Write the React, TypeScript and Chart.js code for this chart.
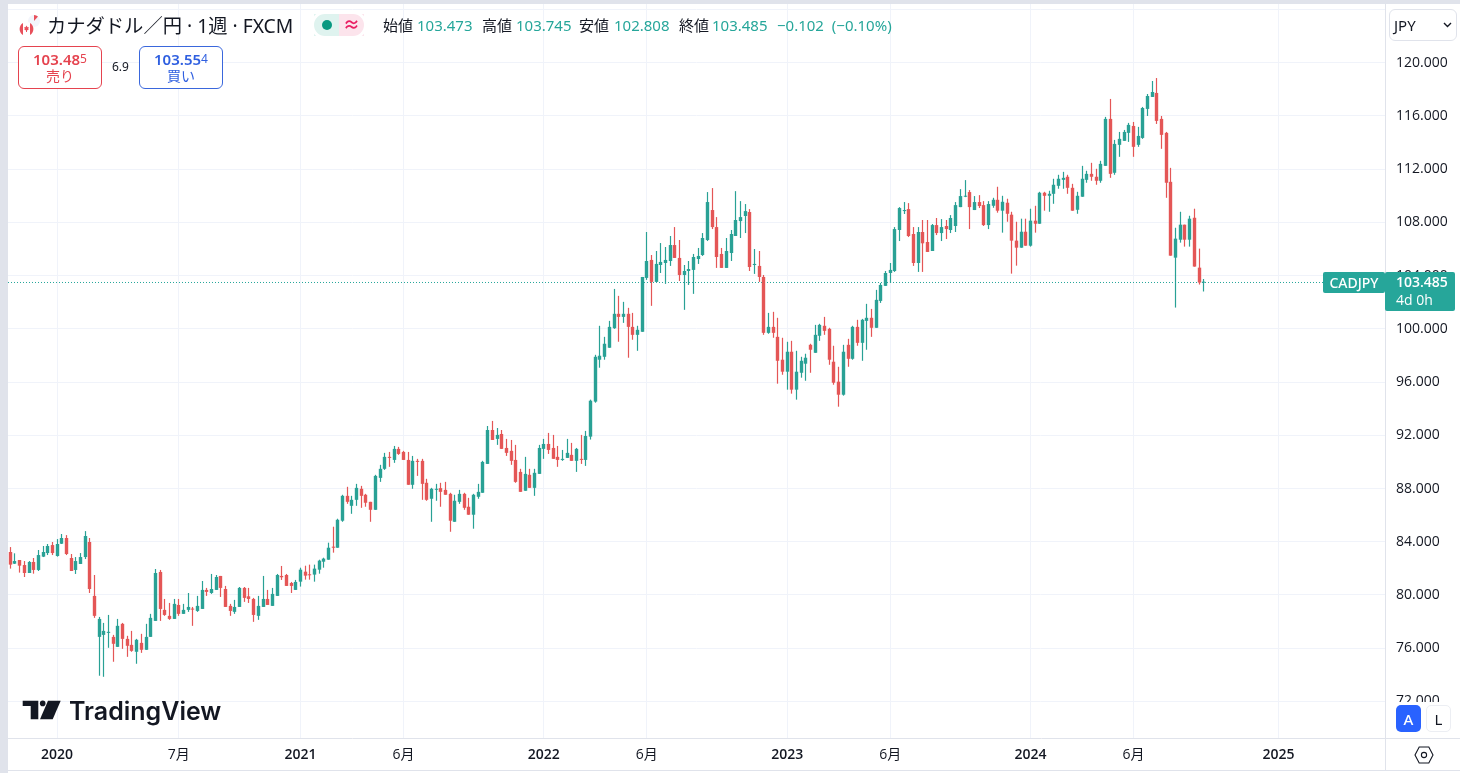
import React, { useEffect, useRef } from "react";
import { Chart, registerables } from "chart.js";

Chart.register(...registerables);

const opens = [
  83.23,82.35,82.63,82.25,81.65,82.48,81.88,82.88,83.15,83.75,
  82.93,83.85,84.28,82.78,81.88,82.33,82.85,83.98,79.93,76.85,
  77.0,77.15,76.85,76.1,77.83,76.7,76.25,75.73,76.4,75.88,
  76.85,78.05,81.73,78.88,78.43,78.2,79.25,78.58,78.88,78.95,
  78.8,78.95,80.38,80.15,80.38,81.43,80.45,79.18,78.73,79.1,
  80.53,79.9,79.7,78.43,79.1,79.7,79.18,79.93,81.43,81.5,
  80.9,80.38,81.0,81.75,81.53,81.53,81.9,82.5,82.65,83.63,
  83.55,85.58,87.45,86.7,87.15,87.98,87.53,87.0,86.4,88.8,
  89.48,90.38,90.15,90.98,90.75,90.15,88.28,90.08,90.08,88.43,
  87.23,87.9,88.03,87.9,87.6,85.5,87.0,87.6,86.63,86.03,
  87.38,87.68,89.85,92.4,91.73,92.1,91.05,90.83,90.15,89.25,
  87.83,89.03,88.05,89.1,90.98,91.35,91.05,90.38,90.15,90.3,
  90.53,90.08,90.23,90.15,91.9,94.53,97.68,97.9,98.58,100.05,
  101.13,100.9,101.13,100.15,99.55,99.78,103.83,105.18,103.53,104.8,
  104.95,105.1,106.3,105.33,104.05,104.35,104.43,105.25,105.55,106.68,
  108.93,107.65,105.63,104.58,105.7,106.98,108.1,108.48,108.78,104.8,
  104.73,103.9,99.7,100.15,99.4,97.68,96.78,98.28,95.43,96.7,
  97.38,98.8,98.2,99.48,100.23,100.0,97.53,96.03,95.05,98.8,
  97.75,100.15,98.95,100.6,100.83,100.08,102.1,103.23,104.2,104.35,
  107.43,108.85,109.0,107.13,104.95,107.28,106.53,105.85,107.8,107.2,
  107.73,107.43,107.73,109.15,109.93,110.28,108.93,109.53,109.3,107.8,
  109.25,109.7,108.88,109.48,108.58,106.63,106.1,107.3,106.25,108.13,
  107.9,110.23,110.0,110.15,110.75,111.2,111.43,110.6,108.95,109.93,
  111.2,111.65,111.43,111.13,112.25,115.78,111.73,113.83,114.13,114.73,
  115.25,113.83,114.35,116.53,117.43,117.73,115.78,114.73,111.05,105.35,
  106.7,107.83,106.7,108.35,104.6,103.473,
];

const highs = [
  83.6,83.13,82.63,82.55,82.55,82.78,83.38,83.68,83.83,83.98,
  84.2,84.58,84.5,83.08,82.85,83.15,84.8,84.28,81.5,78.35,
  77.9,78.5,77.0,78.2,77.9,76.93,77.3,76.7,77.08,77.83,
  78.58,81.95,81.88,79.7,79.4,79.7,79.7,79.33,80.15,79.1,
  79.93,81.05,80.53,81.58,81.5,81.43,80.68,79.33,79.63,80.6,
  80.6,80.53,79.78,79.93,81.43,80.38,80.53,81.58,82.18,81.58,
  80.98,81.13,82.05,82.2,82.28,82.28,82.65,82.8,83.93,85.13,
  85.73,87.53,88.13,87.45,88.35,88.2,87.6,87.0,89.03,89.78,
  90.68,90.75,91.2,91.13,90.83,90.75,90.45,90.23,90.23,88.73,
  88.05,88.35,88.43,88.5,87.68,87.53,87.9,87.68,87.3,87.6,
  88.35,90.08,92.7,93.08,92.55,92.4,91.73,91.65,91.28,89.48,
  90.38,89.48,89.48,91.28,91.73,92.18,92.03,91.2,90.9,91.73,
  91.43,91.05,92.03,92.33,94.68,98.05,100.23,99.4,100.6,103.0,
  102.48,102.03,101.58,101.2,100.23,103.9,107.28,105.55,105.85,106.45,
  106.15,106.98,107.65,106.68,104.8,105.1,105.63,106.08,107.2,110.28,
  110.58,108.4,106.08,106.83,107.43,110.35,109.6,109.38,109.0,106.0,
  105.85,104.05,101.2,101.28,100.83,99.33,99.03,99.1,98.35,97.9,
  98.13,98.88,100.3,100.38,100.9,100.08,98.73,97.15,98.8,99.25,
  100.23,100.68,100.75,101.88,101.5,102.93,103.45,104.35,104.95,107.65,
  109.15,109.53,109.45,107.65,107.65,108.18,108.18,107.88,108.33,108.25,
  108.18,108.55,109.53,110.5,111.18,110.43,109.98,110.05,109.6,109.6,
  109.85,110.68,110.0,109.78,108.8,108.05,108.28,108.28,109.03,109.25,
  110.3,110.3,110.38,111.28,111.58,111.8,111.58,110.9,110.3,112.25,
  111.88,112.48,112.03,112.63,115.93,117.28,114.2,114.8,114.95,115.48,
  115.55,115.18,116.68,117.65,118.63,118.85,116.0,114.8,112.1,107.6,
  108.8,107.83,108.5,109.03,106.03,103.745,
];

const lows = [
  81.98,82.33,81.68,81.35,81.65,81.6,81.8,82.85,83.0,83.0,
  82.88,83.83,83.0,81.8,81.58,82.33,82.7,80.15,78.28,73.93,
  73.85,76.03,74.98,76.1,75.95,75.35,75.73,74.83,75.65,75.88,
  76.85,78.05,78.05,78.43,78.13,78.2,78.43,78.58,78.73,77.68,
  78.73,78.95,79.93,80.08,80.38,79.85,79.1,78.43,78.58,79.1,
  79.48,79.4,77.98,78.13,79.1,79.25,79.18,79.93,81.13,80.68,
  80.15,80.38,80.63,81.15,81.15,81.0,81.6,82.05,82.65,83.18,
  83.55,85.5,86.85,86.1,86.7,86.55,86.63,85.5,86.4,88.5,
  89.4,89.63,89.93,90.53,90.15,88.28,87.98,88.95,87.15,87.08,
  85.5,87.08,86.63,87.53,84.75,85.5,86.85,86.4,86.03,84.98,
  87.23,87.68,89.85,91.65,91.28,90.98,90.45,89.78,88.43,87.75,
  87.83,88.05,87.45,89.1,90.23,90.6,90.23,89.63,90.08,90.3,
  90.08,89.25,89.85,89.7,91.68,94.45,97.08,97.68,98.58,100.0,
  99.03,100.45,97.83,99.18,98.35,99.78,103.68,101.73,103.53,104.2,
  103.38,104.73,105.33,103.6,101.43,103.3,102.63,104.88,105.48,106.6,
  107.5,104.58,104.58,104.58,105.1,106.98,106.83,107.2,104.35,104.13,
  103.53,99.55,99.63,99.33,95.88,96.55,95.43,95.13,94.68,96.33,
  96.1,96.7,98.2,99.1,99.55,97.3,95.8,94.15,94.98,97.15,
  97.68,98.73,97.6,98.43,99.4,100.08,101.95,103.23,103.45,104.28,
  106.6,108.63,106.9,104.73,104.28,104.28,105.78,105.85,107.05,106.6,
  106.75,107.2,107.28,109.15,109.9,107.5,108.93,109.08,107.73,107.5,
  109.1,108.73,107.23,108.05,104.15,104.75,106.1,106.25,106.18,107.23,
  107.9,108.88,108.8,109.4,110.53,110.53,110.15,108.88,108.65,109.93,
  110.98,111.13,110.83,110.98,112.25,111.35,111.58,112.93,114.13,114.05,
  112.93,113.68,114.28,116.0,117.43,115.4,113.53,109.85,105.5,101.6,
  106.48,106.18,106.18,104.68,103.33,102.808,
];

const closes = [
  82.28,82.55,82.2,81.65,82.48,81.88,83.0,83.23,83.68,83.15,
  83.83,84.28,83.08,81.8,82.55,82.85,84.43,80.45,78.43,78.2,
  77.3,77.23,76.33,77.68,76.7,76.18,75.8,76.63,75.88,76.85,
  78.28,81.65,78.95,78.5,78.2,79.33,78.58,78.88,79.1,78.9,
  79.18,80.38,80.23,80.45,81.35,80.53,79.1,78.8,79.1,80.53,
  79.78,79.7,78.5,79.18,79.7,79.25,80.08,81.5,81.33,80.68,
  80.68,80.98,81.9,81.45,81.48,81.98,82.58,82.73,83.55,83.55,
  85.65,87.45,87.0,87.15,88.05,87.45,86.93,86.4,88.95,89.48,
  90.38,90.3,90.98,90.6,90.15,88.28,90.08,90.0,88.35,87.15,
  87.98,87.98,87.75,87.53,85.58,87.08,87.6,86.55,86.03,87.53,
  87.75,90.0,92.4,91.65,92.03,90.98,90.68,90.08,88.5,87.75,
  89.1,88.05,89.18,91.05,91.35,90.9,90.23,90.15,90.23,90.68,
  90.08,90.98,90.15,91.95,94.6,97.9,97.98,98.88,100.15,101.13,
  100.9,101.13,100.15,99.55,99.93,103.9,105.1,103.53,104.88,105.03,
  105.18,106.3,105.33,104.05,104.35,104.5,105.4,105.48,106.83,109.53,
  107.65,105.4,104.58,105.85,107.13,108.18,108.4,108.85,104.65,104.88,
  103.9,99.7,100.15,99.7,97.6,96.78,98.28,95.43,96.78,97.6,
  97.83,98.43,99.55,100.3,99.85,97.68,95.95,95.05,98.28,97.75,
  100.15,98.95,100.68,100.83,100.08,102.18,103.3,104.2,104.43,107.5,
  109.08,108.93,106.98,104.95,107.28,106.43,105.78,107.8,107.2,107.65,
  107.5,108.33,109.3,109.98,109.98,109.15,109.53,109.23,107.8,109.38,
  109.7,108.88,109.55,108.65,106.63,106.1,107.3,106.25,108.13,107.9,
  110.23,110.0,110.15,110.83,111.28,111.35,110.6,108.88,110.0,111.28,
  111.65,111.43,111.13,112.4,115.78,111.65,113.9,114.28,114.8,115.33,
  113.68,114.5,116.6,117.5,117.8,115.63,114.58,110.98,105.5,106.78,
  107.83,106.7,108.28,104.68,103.48,103.485,
];

const timeTickIndex = [10, 36, 62, 84, 114, 136, 166, 188, 218, 240, 271];
const timeTickLabels = ["2020", "7月", "2021", "6月", "2022", "6月", "2023", "6月", "2024", "6月", "2025"];
const priceTicks = [72, 76, 80, 84, 88, 92, 96, 100, 104, 108, 112, 116, 120, 124];
const lastPrice = 103.485;

const UP = "#26a69a";
const CANDLE_UP = "#29a195";
const CANDLE_DOWN = "#e45656";
const GRID = "#f0f3fa";
const AXIS = "#e0e3eb";
const INK = "#131722";
const FONT = '"Open Sans", "Noto Sans CJK JP", sans-serif';
const JP = '"Noto Sans", "Noto Sans CJK JP", sans-serif';

const snapPlugin = {
  id: "snapCandles",
  beforeDatasetsDraw(chart: any) {
    chart.data.datasets.forEach((d: any, i: number) => {
      if (d.type === "line") return;
      chart.getDatasetMeta(i).data.forEach((el: any) => {
        el.x = Math.floor(el.x) + 0.5;
      });
    });
  },
};

function T(p: { x: number; y: number; size?: number; color?: string; weight?: number; children: React.ReactNode; font?: string; w?: number; center?: boolean; ws?: number }) {
  const h = 24;
  return (
    <div
      style={{
        position: "absolute",
        left: p.x,
        top: p.y - h / 2,
        height: h,
        lineHeight: h + "px",
        fontSize: p.size ?? 15,
        color: p.color ?? INK,
        fontWeight: p.weight ?? 400,
        fontFamily: p.font ?? JP,
        whiteSpace: "nowrap",
        width: p.w,
        wordSpacing: p.ws,
        textAlign: p.center ? "center" : "left",
      }}
    >
      {p.children}
    </div>
  );
}

function Box(p: { x: number; y: number; w: number; h: number; bg?: string; border?: string; r?: number; children?: React.ReactNode }) {
  return (
    <div
      style={{
        position: "absolute",
        left: p.x,
        top: p.y,
        width: p.w,
        height: p.h,
        background: p.bg,
        border: p.border ? "1px solid " + p.border : undefined,
        borderRadius: p.r,
        boxSizing: "border-box",
      }}
    >
      {p.children}
    </div>
  );
}

export default function App() {
  const ref = useRef<HTMLCanvasElement>(null);

  useEffect(() => {
    const candleColors = closes.map((c, i) => (c >= opens[i] ? CANDLE_UP : CANDLE_DOWN));
    const chart = new Chart(ref.current as HTMLCanvasElement, {
      type: "bar",
      data: {
        datasets: [
          {
            type: "line",
            data: [
              { x: -0.49, y: lastPrice },
              { x: 293.74, y: lastPrice },
            ],
            borderColor: UP,
            borderWidth: 1,
            borderDash: [1, 2],
            pointRadius: 0,
            order: 3,
          },
          {
            data: highs.map((h, i) => ({ x: i, y: [lows[i], h] })),
            backgroundColor: candleColors,
            barThickness: 1.2,
            grouped: false,
            inflateAmount: 0,
            order: 2,
          },
          {
            data: opens.map((o, i) => ({ x: i, y: [o, closes[i]] })),
            backgroundColor: candleColors,
            barThickness: 3.4,
            grouped: false,
            inflateAmount: 0,
            minBarLength: 1,
            order: 1,
          },
        ],
      } as any,
      plugins: [snapPlugin],
      options: {
        responsive: false,
        animation: false,
        events: [],
        layout: { padding: { left: 8, top: 4, right: 0, bottom: 3 } },
        plugins: { legend: { display: false }, tooltip: { enabled: false } },
        scales: {
          x: {
            type: "linear",
            offset: false,
            min: -0.49,
            max: 293.74,
            afterBuildTicks: (s: any) => {
              s.ticks = timeTickIndex.map((v) => ({ value: v }));
            },
            afterFit: (s: any) => {
              s.height = 32;
              s.paddingLeft = 0;
              s.paddingRight = 0;
            },
            grid: { color: GRID, offset: false, drawTicks: false },
            border: { color: AXIS, display: true },
            ticks: {
              autoSkip: false,
              maxRotation: 0,
              padding: 9,
              color: INK,
              font: (ctx: any) => {
                const idx = timeTickIndex.indexOf(ctx.tick?.value);
                const isYear = idx >= 0 && /^\d+$/.test(timeTickLabels[idx]);
                return { family: FONT, size: 14, weight: isYear ? 600 : 400 };
              },
              callback: (v: any) => timeTickLabels[timeTickIndex.indexOf(v)] ?? "",
            },
          },
          y: {
            type: "linear",
            position: "right",
            min: 69.25,
            max: 124.415,
            afterBuildTicks: (s: any) => {
              s.ticks = priceTicks.map((v) => ({ value: v }));
            },
            afterFit: (s: any) => {
              s.width = 75;
              s.paddingTop = 0;
              s.paddingBottom = 0;
            },
            grid: { color: GRID, drawTicks: false },
            border: { color: AXIS, display: true },
            ticks: {
              autoSkip: false,
              padding: 11,
              color: INK,
              font: { family: FONT, size: 14 },
              callback: (v: any) => Number(v).toFixed(3),
            },
          },
        },
      } as any,
    });
    return () => chart.destroy();
  }, []);

  return (
    <div style={{ position: "absolute", left: 0, top: 0, width: 1460, height: 773, background: "#fff", overflow: "hidden" }}>
      <canvas ref={ref} width={1460} height={773} style={{ position: "absolute", left: 0, top: 0, display: "block" }} />

      {/* window frame */}
      <Box x={0} y={0} w={1460} h={4} bg={AXIS} />
      <Box x={0} y={0} w={8} h={773} bg={AXIS} />
      <Box x={1386} y={4} w={74} h={30} bg="#fff" />
      <Box x={1385} y={4} w={1} h={767} bg={AXIS} />
      <Box x={8} y={770} w={1452} h={1} bg={AXIS} />

      {/* flag */}
      <svg style={{ position: "absolute", left: 18, top: 12 }} width={24} height={26} viewBox="0 0 24 26">
        <circle cx={16} cy={9} r={6} fill="#f3f5fb" />
        <path d="M16 3a6 6 0 0 1 4 1.6L16 9z" fill="#e8505b" />
        <circle cx={8.5} cy={17} r={7} fill="#fff" />
        <path d="M5 11a7 7 0 0 0 0 12zM12 11a7 7 0 0 1 0 12z" fill="#e8505b" />
        <path d="M8.5 13.5l1 1.7 1.2-.3-.4 2 .7.4-2 1.2v1.5h-1v-1.5l-2-1.2.7-.4-.4-2 1.2.3z" fill="#e8505b" />
      </svg>

      <T x={47} y={26} size={19.3}>カナダドル／円 · 1週 · FXCM</T>

      {/* status pill */}
      <Box x={314} y={14} w={25} h={22} bg="#dff3ef" />
      <Box x={339} y={14} w={25} h={22} bg="#fce4ec" />
      <div style={{ position: "absolute", left: 311, top: 11, width: 50, height: 22, borderRadius: 14, boxSizing: "content-box", border: "3px solid #fff" }} />
      <div style={{ position: "absolute", left: 322, top: 20, width: 10, height: 10, borderRadius: 5, background: "#089981" }} />
      <T x={343} y={25} size={17} weight={700} color="#e91e63">≈</T>

      {/* OHLC */}
      <T x={383} y={25}>始値</T>
      <T x={417} y={25} color={UP}>103.473</T>
      <T x={482} y={25}>高値</T>
      <T x={516} y={25} color={UP}>103.745</T>
      <T x={579} y={25}>安値</T>
      <T x={614} y={25} color={UP}>102.808</T>
      <T x={679} y={25}>終値</T>
      <T x={712} y={25} color={UP}>103.485</T>
      <T x={777} y={25} color={UP} ws={4}>−0.102 (−0.10%)</T>

      {/* sell / buy */}
      <Box x={18} y={46} w={84} h={43} bg="#fff" border="#e5434f" r={6} />
      <T x={18} y={59} w={84} center size={15} weight={600} color="#e5434f">
        103.48<sup style={{ fontSize: 12, lineHeight: 0, fontWeight: 400, verticalAlign: "2px" }}>5</sup>
      </T>
      <T x={18} y={76} w={84} center size={14} color="#e5434f">売り</T>
      <T x={112} y={67} size={12}>6.9</T>
      <Box x={139} y={46} w={84} h={43} bg="#fff" border="#3a67dc" r={6} />
      <T x={139} y={59} w={84} center size={15} weight={600} color="#2f5fe0">
        103.55<sup style={{ fontSize: 12, lineHeight: 0, fontWeight: 400, verticalAlign: "2px" }}>4</sup>
      </T>
      <T x={139} y={76} w={84} center size={14} color="#2f5fe0">買い</T>

      {/* currency selector */}
      <Box x={1389} y={9} w={68} h={32} bg="#fff" border="#e0e3eb" r={6} />
      <T x={1394} y={25}>JPY</T>
      <svg style={{ position: "absolute", left: 1443, top: 22 }} width={9} height={6} viewBox="0 0 9 6">
        <path d="M1 1l3.5 3.5L8 1" fill="none" stroke={INK} strokeWidth={1.4} />
      </svg>

      {/* last price labels */}
      <Box x={1323} y={272} w={62} h={21} bg={UP} r={2} />
      <T x={1323} y={282.5} w={62} center weight={500} color="#fff" size={14}>CADJPY</T>
      <Box x={1385} y={272} w={70} h={39} bg={UP} r={2} />
      <T x={1396} y={282} color="#fff" weight={600} size={14} font={FONT}>103.485</T>
      <T x={1396} y={300} color="#fff" size={14} font={FONT}>4d 0h</T>

      {/* auto / log buttons */}
      <Box x={1386} y={702} w={74} h={36} bg="#fff" />
      <Box x={1396} y={705} w={25} h={27} bg="#2962ff" r={5} />
      <T x={1396} y={718.5} w={25} center size={15} weight={500} color="#fff">A</T>
      <Box x={1426} y={705} w={25} h={27} bg="#fff" border="#eceef3" r={5} />
      <T x={1426} y={718.5} w={25} center size={15}>L</T>
      <Box x={1386} y={738} w={74} h={1} bg={AXIS} />

      {/* settings */}
      <svg style={{ position: "absolute", left: 1413, top: 745 }} width={22} height={20} viewBox="0 0 22 20">
        <path d="M6.2 2h9.6L20 10l-4.2 8H6.2L2 10z" fill="none" stroke={INK} strokeWidth={1.1} />
        <circle cx={11} cy={10} r={2.6} fill="none" stroke={INK} strokeWidth={1.1} />
      </svg>

      {/* logo */}
      <svg style={{ position: "absolute", left: 22, top: 700 }} width={40} height={20} viewBox="0 0 40 20">
        <path d="M0.7 0.7H16.3V19.3H8.7V6H0.7z" fill={INK} />
        <circle cx={20.7} cy={3.4} r={2.8} fill={INK} />
        <path d="M26 0.7H38.7L30.7 19.3H18z" fill={INK} />
      </svg>
      <T x={69} y={711} size={25} weight={600} font="Inter">TradingView</T>
    </div>
  );
}
